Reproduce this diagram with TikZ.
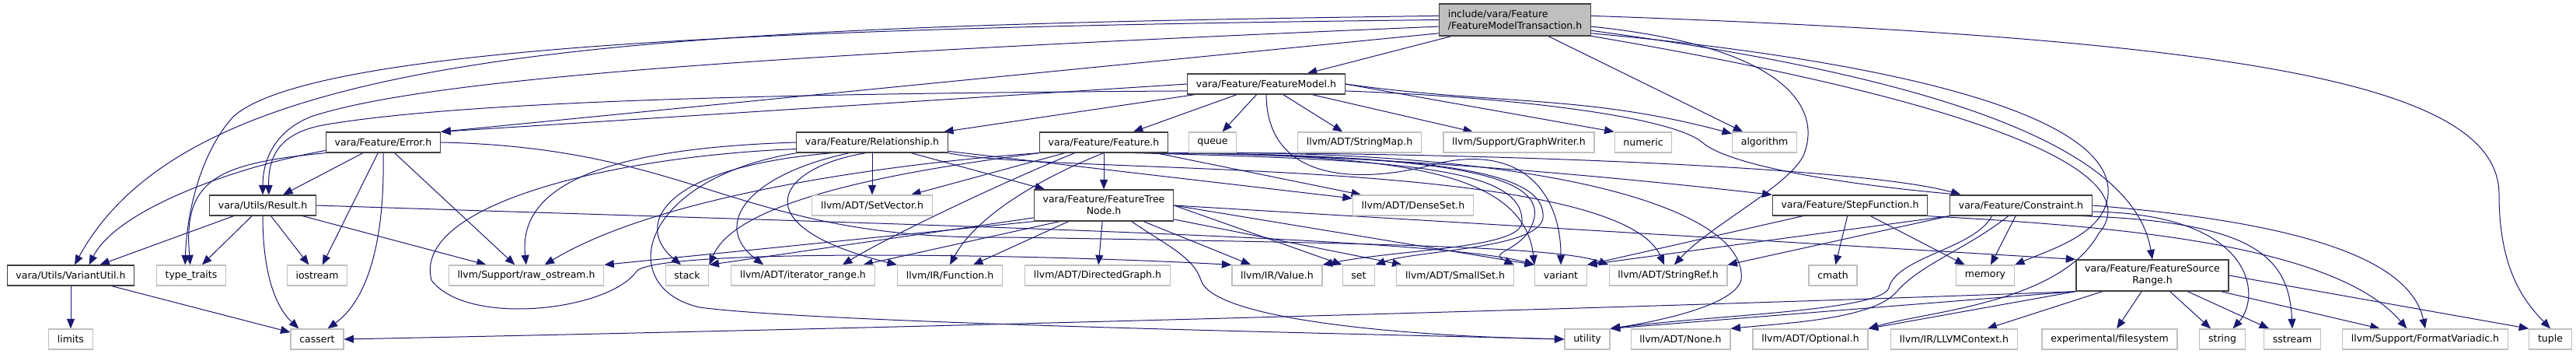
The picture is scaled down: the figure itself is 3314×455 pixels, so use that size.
\documentclass[tikz,border=0pt]{standalone}
\usepackage{fontspec}
\setmainfont{DejaVu Sans}
\usepackage{xcolor}
\usepackage{tikz}
\usetikzlibrary{arrows.meta,backgrounds}
\definecolor{edgeblue}{RGB}{25,25,112}
\definecolor{extgrey}{RGB}{191,191,191}
\definecolor{projgrey}{RGB}{64,64,64}

\tikzset{
  projfile/.style={draw=projgrey, line width=1pt, fill=white, inner xsep=9pt, inner ysep=1pt,
    minimum height=20.8pt, font=\fontsize{10}{12}\selectfont, align=center},
  sysfile/.style={projfile, draw=extgrey},
  mainfile/.style={projfile, fill=extgrey, align=left, minimum height=32.8pt},
  twoline/.style={minimum height=32pt},
  incl/.style={draw=edgeblue, line width=0.8pt, -{Triangle[length=10pt,width=8pt]}},
}

\begin{document}
\begin{tikzpicture}[x=0.8pt,y=0.8pt]
			\useasboundingbox (0,0) rectangle (3314,-455);
			
			\node[mainfile] (trans) at (1949,-25.5) {include/vara/Feature\\/FeatureModelTransaction.h};
			
			\node[projfile] (fmodel) at (1629,-108) {vara/Feature/FeatureModel.h};
			
			\node[projfile] (error) at (493,-183) {vara/Feature/Error.h};
			\node[projfile] (relation) at (1122,-183) {vara/Feature/Relationship.h};
			\node[projfile] (feature) at (1420,-183) {vara/Feature/Feature.h};
			\node[sysfile] (queue) at (1560,-183) {queue};
			\node[sysfile] (stringmap) at (1749,-183) {llvm/ADT/StringMap.h};
			\node[sysfile] (graphwriter) at (1954,-183) {llvm/Support/GraphWriter.h};
			\node[sysfile] (numeric) at (2114,-183) {numeric};
			\node[sysfile] (algorithm) at (2270,-183) {algorithm};
			
			\node[projfile] (result) at (338,-264) {vara/Utils/Result.h};
			\node[sysfile] (setvector) at (1122,-264) {llvm/ADT/SetVector.h};
			\node[projfile,twoline] (treenode) at (1420,-264) {vara/Feature/FeatureTree\\Node.h};
			\node[sysfile] (denseset) at (1818,-264) {llvm/ADT/DenseSet.h};
			\node[projfile] (stepfn) at (2380,-264) {vara/Feature/StepFunction.h};
			\node[projfile] (constraint) at (2600,-264) {vara/Feature/Constraint.h};
			
			\node[projfile] (variantutil) at (91,-354) {vara/Utils/VariantUtil.h};
			\node[sysfile] (typetraits) at (246,-354) {type\_traits};
			\node[sysfile] (iostream) at (408,-354) {iostream};
			\node[sysfile] (rawostream) at (677,-354) {llvm/Support/raw\_ostream.h};
			\node[sysfile] (stack) at (884,-354) {stack};
			\node[sysfile] (iterrange) at (1033,-354) {llvm/ADT/iterator\_range.h};
			\node[sysfile] (function) at (1222,-354) {llvm/IR/Function.h};
			\node[sysfile] (dirgraph) at (1412,-354) {llvm/ADT/DirectedGraph.h};
			\node[sysfile] (value) at (1643,-354) {llvm/IR/Value.h};
			\node[sysfile] (stdset) at (1748,-354) {set};
			\node[sysfile] (smallset) at (1872,-354) {llvm/ADT/SmallSet.h};
			\node[sysfile] (variant) at (2008,-354) {variant};
			\node[sysfile] (stringref) at (2146,-354) {llvm/ADT/StringRef.h};
			\node[sysfile] (cmath) at (2358,-354) {cmath};
			\node[sysfile] (memory) at (2554,-354) {memory};
			\node[projfile,twoline] (srcrange) at (2769,-354) {vara/Feature/FeatureSource\\Range.h};
			
			\node[sysfile] (limits) at (91,-436) {limits};
			\node[sysfile] (cassert) at (408,-436) {cassert};
			\node[sysfile] (utility) at (2042,-436) {utility};
			\node[sysfile] (llvmnone) at (2162,-436) {llvm/ADT/None.h};
			\node[sysfile] (optional) at (2329,-436) {llvm/ADT/Optional.h};
			\node[sysfile] (llvmctx) at (2514,-436) {llvm/IR/LLVMContext.h};
			\node[sysfile] (filesystem) at (2714,-436) {experimental/filesystem};
			\node[sysfile] (string) at (2859,-436) {string};
			\node[sysfile] (sstream) at (2949,-436) {sstream};
			\node[sysfile] (formatv) at (3120,-436) {llvm/Support/FormatVariadic.h};
			\node[sysfile] (tuple) at (3281,-436) {tuple};
			
			\begin{scope}[on background layer]
			% FeatureModelTransaction.h
			\draw[incl] (trans) -- (fmodel);
			\draw[incl] (trans.190) -- (error.north east);
			\draw[incl] (trans.185) .. controls (1000,-70) and (550,-100) .. (400,-150) .. controls (350,-170) and (338,-210) .. (result.north);
			\draw[incl] (trans.177) .. controls (800,-35) and (250,-60) .. (variantutil.70);
			\draw[incl] (trans.180) .. controls (1000,-35) and (400,-60) .. (300,-150) .. controls (255,-200) and (240,-280) .. (typetraits.120);
			\draw[incl] (trans) -- (algorithm);
			\draw[incl] (trans.355) .. controls (2300,-60) and (2345,-140) .. (2320,-200) .. controls (2300,-240) and (2200,-290) .. (stringref.60);
			\draw[incl] (trans.3) .. controls (2900,-50) and (3215,-110) .. (3215,-250) .. controls (3215,-350) and (3250,-390) .. (tuple.north);
			\draw[incl] (trans.350) .. controls (2450,-80) and (2720,-150) .. (2712,-250) .. controls (2708,-300) and (2640,-320) .. (memory.north east);
			\draw[incl] (trans.352) .. controls (2500,-100) and (2745,-190) .. (srcrange.north);
			\draw[incl] (trans.348) .. controls (2600,-140) and (2760,-230) .. (2700,-300) .. controls (2650,-390) and (2480,-400) .. (optional.north east);
			
			% FeatureModel.h
			\draw[incl] (fmodel.west) -- (error.north east);
			\draw[incl] (fmodel.185) .. controls (1000,-120) and (600,-130) .. (420,-160) .. controls (360,-170) and (345,-200) .. (result.60);
			\draw[incl] (fmodel) -- (relation);
			\draw[incl] (fmodel) -- (feature);
			\draw[incl] (fmodel) -- (queue);
			\draw[incl] (fmodel) -- (stringmap);
			\draw[incl] (fmodel) -- (graphwriter);
			\draw[incl] (fmodel.east) -- (numeric.north west);
			\draw[incl] (fmodel.east) to[out=-8,in=165] (algorithm);
			\draw[incl] (fmodel.355) .. controls (1950,-125) and (2150,-150) .. (2190,-183) .. controls (2220,-210) and (2350,-235) .. (constraint.170);
			\draw[incl] (fmodel.south) .. controls (1630,-240) and (1760,-235) .. (1850,-210) .. controls (1960,-185) and (2008,-250) .. (variant.north);
			
			% Error.h
			\draw[incl] (error) -- (result);
			\draw[incl] (error.188) .. controls (300,-215) and (150,-270) .. (variantutil.30);
			\draw[incl] (error.south west) .. controls (280,-210) and (235,-230) .. (typetraits.95);
			\draw[incl] (error) -- (iostream);
			\draw[incl] (error.south) .. controls (495,-290) and (480,-380) .. (cassert.45);
			\draw[incl] (error) -- (rawostream);
			\draw[incl] (error.east) .. controls (900,-190) and (950,-310) .. (1300,-305) .. controls (1700,-312) and (2000,-315) .. (stringref.north west);
			
			% Result.h
			\draw[incl] (result) -- (variantutil.20);
			\draw[incl] (result) -- (typetraits);
			\draw[incl] (result) -- (iostream);
			\draw[incl] (result.south) .. controls (338,-340) and (350,-390) .. (cassert.150);
			\draw[incl] (result) -- (rawostream);
			\draw[incl] (result.east) .. controls (1200,-290) and (1850,-305) .. (variant.north west);
			
			% VariantUtil.h
			\draw[incl] (variantutil) -- (limits);
			\draw[incl] (variantutil) -- (cassert);
			
			% Relationship.h
			\draw[incl] (relation) -- (setvector);
			\draw[incl] (relation) -- (treenode);
			\draw[incl] (relation) -- (denseset);
			\draw[incl] (relation.west) .. controls (800,-190) and (665,-230) .. (rawostream.north);
			\draw[incl] (relation.185) .. controls (800,-200) and (530,-260) .. (555,-360) .. controls (600,-420) and (780,-400) .. (818,-350) .. controls (830,-320) and (1300,-325) .. (value.north west);
			\draw[incl] (relation.188) .. controls (820,-230) and (790,-370) .. (900,-395) .. controls (1050,-415) and (1700,-428) .. (utility.west);
			\draw[incl] (relation.195) .. controls (850,-215) and (815,-290) .. (stack.120);
			\draw[incl] (relation.205) .. controls (960,-225) and (915,-290) .. (iterrange.165);
			\draw[incl] (relation.240) .. controls (1000,-215) and (950,-290) .. (function.north west);
			\draw[incl] (relation.south east) .. controls (1350,-225) and (2080,-200) .. (stringref.110);
			
			% Feature.h
			\draw[incl] (feature) -- (treenode);
			\draw[incl] (feature) -- (setvector);
			\draw[incl] (feature) -- (denseset);
			\draw[incl] (feature.south west) .. controls (1150,-210) and (850,-250) .. (rawostream.30);
			\draw[incl] (feature.south west) .. controls (1200,-215) and (950,-250) .. (stack.north east);
			\draw[incl] (feature.200) .. controls (1300,-230) and (1150,-300) .. (iterrange.15);
			\draw[incl] (feature.south) .. controls (1360,-220) and (1260,-270) .. (function.north);
			\draw[incl] (feature.340) .. controls (1800,-205) and (1960,-215) .. (1958,-285) .. controls (1958,-320) and (1800,-320) .. (value.north east);
			\draw[incl] (feature.350) .. controls (1850,-200) and (1990,-220) .. (1985,-280) .. controls (1980,-320) and (1820,-322) .. (stdset.north east);
			\draw[incl] (feature.south east) .. controls (1900,-200) and (2010,-230) .. (1965,-300) .. controls (1945,-325) and (1915,-325) .. (smallset.north east);
			\draw[incl] (feature.south east) .. controls (1800,-200) and (1960,-220) .. (variant.north west);
			\draw[incl] (feature.south east) .. controls (1800,-200) and (2100,-230) .. (stepfn.north west);
			\draw[incl] (feature.south east) .. controls (1900,-195) and (2400,-215) .. (constraint.170);
			\draw[incl] (feature.350) .. controls (2000,-190) and (2250,-270) .. (2240,-360) .. controls (2230,-395) and (2120,-415) .. (utility.north east);
			
			% FeatureTreeNode.h
			\draw[incl] (treenode.south west) -- (rawostream.north east);
			\draw[incl] (treenode.190) -- (stack.north east);
			\draw[incl] (treenode.200) -- (iterrange.10);
			\draw[incl] (treenode) -- (function);
			\draw[incl] (treenode) -- (dirgraph);
			\draw[incl] (treenode) -- (value);
			\draw[incl] (treenode.east) -- (stdset.north west);
			\draw[incl] (treenode) -- (smallset);
			\draw[incl] (treenode.east) -- (variant.north west);
			\draw[incl] (treenode.east) -- (srcrange.north west);
			\draw[incl] (treenode.330) .. controls (1500,-315) and (1535,-330) .. (1545,-360) .. controls (1560,-410) and (1800,-432) .. (utility.west);
			
			% StepFunction.h
			\draw[incl] (stepfn) -- (variant.north east);
			\draw[incl] (stepfn) -- (cmath);
			\draw[incl] (stepfn) -- (memory);
			\draw[incl] (stepfn.south east) .. controls (2700,-290) and (3000,-310) .. (formatv.150);
			
			% Constraint.h
			\draw[incl] (constraint.south west) -- (variant.north east);
			\draw[incl] (constraint.south west) -- (stringref.north east);
			\draw[incl] (constraint) -- (memory);
			\draw[incl] (constraint.200) .. controls (2540,-320) and (2440,-330) .. (2430,-370) .. controls (2420,-400) and (2200,-405) .. (utility.north east);
			\draw[incl] (constraint.220) .. controls (2530,-320) and (2470,-340) .. (2440,-375) .. controls (2410,-410) and (2300,-415) .. (llvmnone.north east);
			\draw[incl] (constraint.east) .. controls (2950,-285) and (3100,-330) .. (formatv.north);
			\draw[incl] (constraint.355) .. controls (2900,-275) and (2910,-380) .. (string.45);
			\draw[incl] (constraint.350) .. controls (2900,-285) and (2945,-330) .. (sstream.north);
			
			% FeatureSourceRange.h
			\draw[incl] (srcrange.south west) .. controls (2000,-400) and (1000,-425) .. (cassert.east);
			\draw[incl] (srcrange.south west) -- (utility.north east);
			\draw[incl] (srcrange.south west) -- (optional.north east);
			\draw[incl] (srcrange) -- (llvmctx);
			\draw[incl] (srcrange) -- (filesystem);
			\draw[incl] (srcrange) -- (string);
			\draw[incl] (srcrange) -- (sstream);
			\draw[incl] (srcrange) -- (formatv);
			\draw[incl] (srcrange.east) -- (tuple.north west);
			\end{scope}
			
		\end{tikzpicture}
\end{document}
